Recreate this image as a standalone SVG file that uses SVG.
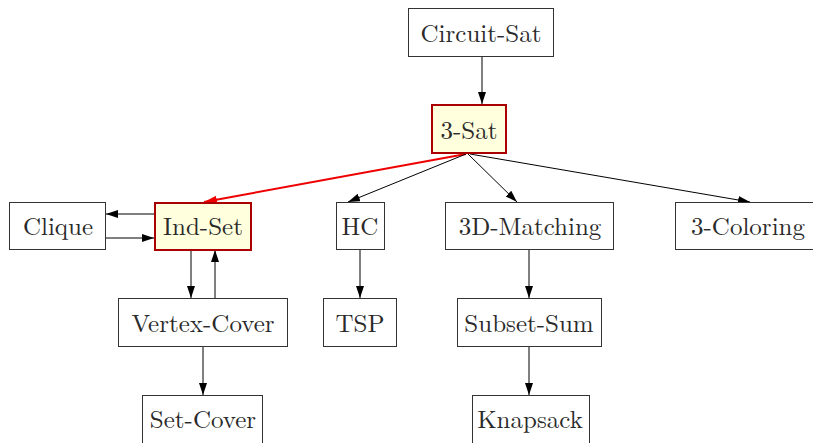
<svg xmlns="http://www.w3.org/2000/svg" width="813" height="443" viewBox="0 0 813 443">
  <style>
    .box { fill: #ffffff; stroke: #333333; stroke-width: 1; }
    .hl { fill: #ffffdd; stroke: #aa0000; stroke-width: 2; }
    .lbl { font-family: 'Latin Modern Roman', 'CMU Serif', 'DejaVu Serif', 'Noto Serif', 'Tinos', 'FreeSerif', 'Nimbus Roman', serif; font-size: 25px; fill: #2a2a2a; text-anchor: middle; }
    .edge { stroke: #000000; stroke-width: 1; fill: none; marker-end: url(#ah); }
    .red { stroke: #ee0000; stroke-width: 2; fill: none; marker-end: url(#ahr); }
  </style>
  <defs>
    <marker id="ah" markerWidth="12" markerHeight="8" refX="12" refY="4" orient="auto" markerUnits="userSpaceOnUse">
      <path d="M0,0 L12,4 L0,8 Z" fill="#000000"/>
    </marker>
    <marker id="ahr" markerWidth="13" markerHeight="8" refX="13" refY="4" orient="auto" markerUnits="userSpaceOnUse">
      <path d="M0,0 L13,4 L0,8 Z" fill="#ee0000"/>
    </marker>
  </defs>
  <rect width="813" height="443" fill="#ffffff"/>

  <g id="connectors">
    <line class="edge" x1="482" y1="57" x2="482" y2="104"/>
    <line class="red" x1="466" y1="154" x2="204" y2="202"/>
    <line class="edge" x1="466" y1="154" x2="348" y2="202"/>
    <line class="edge" x1="468" y1="154" x2="517" y2="202"/>
    <line class="edge" x1="470" y1="154" x2="750" y2="202"/>
    <line class="edge" x1="154" y1="214" x2="106" y2="214"/>
    <line class="edge" x1="106" y1="238" x2="154" y2="238"/>
    <line class="edge" x1="191" y1="250" x2="191" y2="298"/>
    <line class="edge" x1="215" y1="298" x2="215" y2="250"/>
    <line class="edge" x1="203" y1="347" x2="203" y2="395"/>
    <line class="edge" x1="360" y1="250" x2="360" y2="298"/>
    <line class="edge" x1="529" y1="250" x2="529" y2="298"/>
    <line class="edge" x1="529" y1="347" x2="529" y2="395"/>
  </g>

  <g id="circuit-sat">
    <rect class="box" x="408.5" y="8.5" width="145" height="48"/>
    <text class="lbl" x="481" y="42">Circuit-Sat</text>
  </g>
  <g id="three-sat">
    <rect class="hl" x="432" y="105" width="74" height="48"/>
    <text class="lbl" x="469" y="139">3-Sat</text>
  </g>
  <g id="clique">
    <rect class="box" x="9.5" y="202.5" width="96" height="47"/>
    <text class="lbl" x="58" y="235">Clique</text>
  </g>
  <g id="ind-set">
    <rect class="hl" x="155" y="203" width="96" height="47"/>
    <text class="lbl" x="203" y="235">Ind-Set</text>
  </g>
  <g id="hc">
    <rect class="box" x="336.5" y="202.5" width="48" height="47"/>
    <text class="lbl" x="360" y="235">HC</text>
  </g>
  <g id="three-d-matching">
    <rect class="box" x="445.5" y="202.5" width="168" height="47"/>
    <text class="lbl" x="530" y="235">3D-Matching</text>
  </g>
  <g id="three-coloring">
    <rect class="box" x="675.5" y="202.5" width="145" height="47"/>
    <text class="lbl" x="748" y="235">3-Coloring</text>
  </g>
  <g id="vertex-cover">
    <rect class="box" x="118.5" y="298.5" width="169" height="48"/>
    <text class="lbl" x="203" y="332">Vertex-Cover</text>
  </g>
  <g id="tsp">
    <rect class="box" x="323.5" y="298.5" width="73" height="48"/>
    <text class="lbl" x="360" y="332">TSP</text>
  </g>
  <g id="subset-sum">
    <rect class="box" x="457.5" y="298.5" width="144" height="48"/>
    <text class="lbl" x="529" y="332">Subset-Sum</text>
  </g>
  <g id="set-cover">
    <rect class="box" x="142.5" y="395.5" width="120" height="60"/>
    <text class="lbl" x="203" y="428">Set-Cover</text>
  </g>
  <g id="knapsack">
    <rect class="box" x="472.5" y="395.5" width="117" height="60"/>
    <text class="lbl" x="530" y="428">Knapsack</text>
  </g>
</svg>
